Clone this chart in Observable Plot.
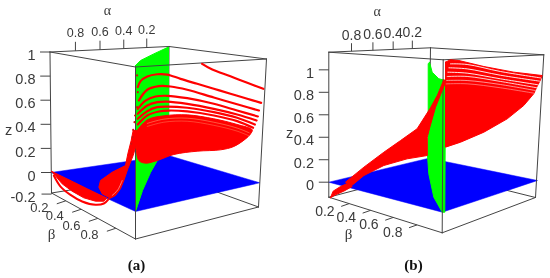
<!DOCTYPE html>
<html>
<head>
<meta charset="utf-8">
<script src="https://cdn.jsdelivr.net/npm/d3@7"></script>
<script src="https://cdn.jsdelivr.net/npm/@observablehq/plot@0.6"></script>
<style>html,body{margin:0;padding:0;background:#fff}svg{display:block}</style>
</head>
<body>
<div id="chart"></div>
<script>
// ---- axis values
const alphaTicks = [0.8, 0.6, 0.4, 0.2];
const betaTicks = [0.2, 0.4, 0.6, 0.8];
const zTicksA = [1, 0.8, 0.6, 0.4, 0.2, 0, -0.2];
const zTicksB = [1, 0.8, 0.6, 0.4, 0.2, 0];

// ---- panel (a): red curves, on the section from (alpha 1, beta 0) to (alpha 0, beta 1)
const a1Beta = [.702,.749,.833,.911,.985];
const a1Z = [.942,.898,.848,.799,.755];
const a2Beta = [.404,.417,.448,.494,.540,.602,.679,.756,.833,.911,.975];
const a2Z = [.735,.785,.825,.846,.846,.814,.778,.742,.706,.670,.641];
const a3Beta = [.409,.448,.502,.556,.633,.756,.880,.965];
const a3Z = [.626,.716,.749,.749,.727,.671,.616,.578];
const a4Beta = [.404,.440,.486,.540,.633,.756,.864,.960];
const a4Z = [.557,.627,.663,.672,.658,.620,.572,.530];
const a5Beta = [.404,.448,.494,.540,.633,.756,.864,.954];
const a5Z = [.516,.587,.617,.625,.612,.579,.540,.497];
const a6Beta = [.404,.448,.494,.540,.633,.756,.864,.946];
const a6Z = [.475,.540,.576,.584,.580,.552,.513,.464];
const a7Beta = [.404,.448,.502,.548,.633,.756,.864,.938];
const a7Z = [.428,.505,.541,.552,.550,.525,.486,.437];
const aMassBeta = [.401,.448,.525,.633,.756,.864,.934,.926,.903,.849,.787,.679,.571,.494,.440,.409,.398];
const aMassZ = [.378,.469,.507,.522,.498,.459,.420,.387,.345,.280,.248,.229,.194,.139,.113,.132,.214];
const aFaintBeta = [.448,.525,.633,.756,.864,.920];
const aFaint1Z = [.440,.480,.495,.470,.430,.395];
const aFaint2Z = [.415,.455,.470,.445,.405,.370];
const aDotBeta = [.401,.404,.401,.392,.389,.383,.380,.374];
const aDotZ = [.831,.694,.570,.501,.446,.383,.322,.267];
const aNeckBeta = [.3827,.3735,.3580,.3472,.2855,.2315,.2238,.2392,.2778,.3009,.3241,.3395,.3580,.3827,.3981,.3981];
const aNeckZ = [.377,.294,.183,.086,.026,-.047,-.103,-.157,-.189,-.165,-.108,-.038,.060,.171,.268,.378];
const aNeckGapBeta = [.3318,.3117,.2855];
const aNeckGapZ = [-.039,-.117,-.166];
const aBowlBeta = [.005,.108,.170,.224,.262,.247,.208,.154,.100,.054];
const aBowlZ = [.010,-.071,-.121,-.163,-.190,-.217,-.220,-.197,-.147,-.090];
const aRimBeta = [.0154,.0463,.0926,.1466,.2083,.2469,.2701];
const aRimZ = [-.024,-.113,-.178,-.228,-.250,-.236,-.195];
// panel (a): green surface, on the section alpha = beta
const aGreenBeta = [1,.848,.445,0,0,.303,.545,.788,.939,1];
const aGreenZ = [1.01,1.024,1.014,.995,0,.117,.105,.066,.018,0];

// ---- panel (b)
const bFanBeta = [.552,.575,.615,.733,.874,1.008,1.0,.984,.968,.921,.843,.733,.623,.552];
const bFanZ = [1.080,1.102,1.096,1.044,.995,.967,.927,.865,.798,.690,.567,.445,.354,.309];
const bBandBeta = [.544,.513,.481,.418,.340,.261,.167,.080,.104,.167,.261,.371,.466,.466,.478,.505,.552];
const bBandZ = [.920,.777,.665,.476,.370,.265,.132,-.001,-.040,.057,.146,.205,.234,.400,.490,.671,.898];
const bTailBeta = [.009,.022,.057,.085,.112,.072,.033];
const bTailZ = [-.139,-.080,-.039,-.016,-.040,-.081,-.113];
const bGap1Beta = [.575,.654,.811,1.0];
const bGap1Z = [1.065,1.061,1.000,.945];
const bGap2Beta = [.568,.654,.811,.995];
const bGap2Z = [1.029,1.021,.966,.915];
const bGap3Beta = [.563,.654,.811,.989];
const bGap3Z = [.989,.982,.933,.881];
const bGap4Beta = [.560,.654,.811,.984];
const bGap4Z = [.950,.952,.909,.853];
const bGap5Beta = [.557,.654,.811,.976];
const bGap5Z = [.914,.915,.881,.828];
const bGap6Beta = [.555,.654,.811,.968];
const bGap6Z = [.883,.885,.851,.804];
const bGreenBeta = [.126,.273,.634,1,.962,.820,.361,.087,0,.055,.055];
const bGreenZ = [1.041,.965,.964,1,-.016,-.079,-.188,-.122,.072,.278,1.014];

// ---- viewing set-up: where the box corners fall in the picture
function makeView(c) {
  const mix = (a, b, t) => a + (b - a) * t;
  const atKnot = (k, A, B) => ({
    x: A*(1-B)*c.L.x[k] + A*B*c.F.x[k] + (1-A)*B*c.R.x[k] + (1-A)*(1-B)*c.K.x[k],
    y: A*(1-B)*c.L.y[k] + A*B*c.F.y[k] + (1-A)*B*c.R.y[k] + (1-A)*(1-B)*c.K.y[k]
  });
  const project = (alpha, beta, z) => {
    const p0 = atKnot(1, alpha, beta);
    const p1 = z >= 0 ? atKnot(0, alpha, beta) : atKnot(2, alpha, beta);
    const f = z >= 0 ? z / c.zTop : z / c.zBot;
    return {x: mix(p0.x, p1.x, f), y: mix(p0.y, p1.y, f)};
  };
  const pers = (t, w) => t / (t + w * (1 - t));
  const red = (b, z) => ({
    x: c.red.x0 + c.red.dx * b,
    y: c.red.y0 + c.red.dy * b - z * (c.red.h0 + c.red.dh * b)
  });
  const green = (b, z) => ({
    x: c.green.x0 + c.green.dx * b,
    y: c.green.y0 + c.green.dy * b - z * (c.green.h0 + c.green.dh * b)
  });
  return {project, pers, red, green, c};
}
const zip = (fn, xs, ys) => xs.map((v, i) => fn(v, ys[i]));
const closed = rows => [...rows, rows[0]];

const viewA = makeView({
  zTop: 1, zBot: -0.19,
  L: {x: [49.5, 50.5, 51], y: [51.5, 172, 192.5]},
  F: {x: [135, 135, 135], y: [66.5, 211, 238.5]},
  R: {x: [266, 259.3, 258], y: [58.5, 182.3, 206.5]},
  K: {x: [168.5, 168, 168], y: [46, 155, 174]},
  red: {x0: 50, dx: 216, y0: 172, dy: 10, h0: 120, dh: 4},
  green: {x0: 168, dx: -33, y0: 155, dy: 56, h0: 109, dh: 35.5},
  wAlpha: .92, wBeta: 1.22,
  zTickLen: 10, alphaTickLen: 9, alphaLabelDy: -18,
  betaTick: [-9, 3], betaLabel: [-26.4, 7], zLabelX: 35,
  alphaSize: 12.5, betaSize: 13
});
const viewB = makeView({
  zTop: 1.157, zBot: -0.133,
  L: {x: [328.3, 328.3, 328.3], y: [51.7, 181.7, 196.7]},
  F: {x: [442.7, 441.7, 441.7], y: [59.3, 211.7, 232.3]},
  R: {x: [543.3, 537, 535], y: [54.3, 180, 197]},
  K: {x: [430, 428.3, 428.3], y: [47.3, 157.7, 170.4]},
  red: {x0: 328, dx: 212, y0: 181.7, dy: -1.7, h0: 112.4, dh: -3.8},
  green: {x0: 426.7, dx: 18.3, y0: 156.7, dy: 55, h0: 93, dh: 38.7},
  wAlpha: .87, wBeta: 1.14,
  zTickLen: 10, alphaTickLen: 8, alphaLabelDy: -16,
  betaTick: [-8, 2.8], betaLabel: [-24.3, 7.5], zLabelX: 313.5,
  alphaSize: 14, betaSize: 14
});

const ink = "#444";
const textInk = "#3a3a3a";
const sans = "Liberation Sans";
const serif = "Liberation Serif";

function edgeMarks(v, pairs) {
  const zT = v.c.zTop, zB = v.c.zBot;
  const P = {
    LT: v.project(1,0,zT), FT: v.project(1,1,zT), RT: v.project(0,1,zT), KT: v.project(0,0,zT),
    LB: v.project(1,0,zB), FB: v.project(1,1,zB), RB: v.project(0,1,zB), KB: v.project(0,0,zB)
  };
  return pairs.map(([a, b]) => Plot.line([P[a], P[b]], {x: "x", y: "y", stroke: ink, strokeWidth: 1}));
}

function axisMarks(v, zTicks) {
  const c = v.c, marks = [];
  const zRows = zTicks.map(z => {
    const p = v.project(1, 0, z);
    return {x1: p.x - c.zTickLen, x2: p.x, y: p.y, label: String(z)};
  });
  marks.push(Plot.link(zRows, {x1: "x1", x2: "x2", y1: "y", y2: "y", stroke: ink, strokeWidth: 1}));
  marks.push(Plot.text(zRows, {x: () => c.zLabelX, y: d => d.y + 3.5, text: "label", textAnchor: "end", fontSize: 14.5, fontFamily: sans, fill: textInk}));
  const aRows = alphaTicks.map(a => {
    const p = v.project(1 - v.pers(1 - a, c.wAlpha), 0, c.zTop);
    return {x: p.x, y: p.y, label: String(a)};
  });
  marks.push(Plot.link(aRows, {x1: "x", x2: "x", y1: "y", y2: d => d.y - c.alphaTickLen, stroke: ink, strokeWidth: 1}));
  marks.push(Plot.text(aRows, {x: "x", y: d => d.y + c.alphaLabelDy, text: "label", fontSize: c.alphaSize, fontFamily: sans, fill: textInk}));
  const bRows = betaTicks.map(b => {
    const p = v.project(1, v.pers(b, c.wBeta), c.zBot);
    return {x: p.x, y: p.y, label: String(b)};
  });
  marks.push(Plot.link(bRows, {x1: "x", y1: "y", x2: d => d.x + c.betaTick[0], y2: d => d.y + c.betaTick[1], stroke: ink, strokeWidth: 1}));
  marks.push(Plot.text(bRows, {x: d => d.x + c.betaLabel[0], y: d => d.y + c.betaLabel[1], text: "label", fontSize: c.betaSize, fontFamily: sans, fill: textInk}));
  return marks;
}

function planeMark(v) {
  const rows = [[1,0],[1,1],[0,1],[0,0]].map(([a,b]) => v.project(a,b,0));
  return Plot.line(closed(rows), {x: "x", y: "y", fill: "#0000ff", stroke: "#0000ff", strokeWidth: .5});
}
const poly = (rows, col, curve = "linear") =>
  Plot.line(closed(rows), {x: "x", y: "y", fill: col, stroke: col, strokeWidth: 1, curve});
const curve = (rows, col, w, opacity = 1) =>
  Plot.line(rows, {x: "x", y: "y", stroke: col, strokeWidth: w, strokeOpacity: opacity, curve: "catmull-rom"});

const RED = "#ff0000", GREEN = "#00ff00";
const backEdges = ["LT-KT","KT-RT","LB-KB","KB-RB","KT-KB"].map(s => s.split("-"));
const frontEdges = ["LT-FT","FT-RT","LB-FB","FB-RB","LT-LB","FT-FB","RT-RB"].map(s => s.split("-"));

const marksA = [
  ...edgeMarks(viewA, backEdges),
  planeMark(viewA),
  poly(zip(viewA.green, aGreenBeta, aGreenZ), GREEN),
  ...edgeMarks(viewA, frontEdges),
  poly(zip(viewA.red, aBowlBeta, aBowlZ), RED),
  curve(zip(viewA.red, aRimBeta, aRimZ), RED, 2),
  poly(zip(viewA.red, aNeckBeta, aNeckZ), RED),
  curve(zip(viewA.red, aNeckGapBeta, aNeckGapZ), "#ff9a9a", .8),
  Plot.dot(zip(viewA.red, aDotBeta, aDotZ), {x: "x", y: "y", r: 1.1, fill: "#d01010"}),
  poly(zip(viewA.red, aMassBeta, aMassZ), RED, "catmull-rom"),
  curve(zip(viewA.red, aFaintBeta, aFaint1Z), "#ff9a70", .7, .8),
  curve(zip(viewA.red, aFaintBeta, aFaint2Z), "#ff9a70", .7, .6),
  curve(zip(viewA.red, a1Beta, a1Z), RED, 2.2),
  curve(zip(viewA.red, a2Beta, a2Z), RED, 2.2),
  curve(zip(viewA.red, a3Beta, a3Z), RED, 2.2),
  curve(zip(viewA.red, a4Beta, a4Z), RED, 2.2),
  curve(zip(viewA.red, a5Beta, a5Z), RED, 2.2),
  curve(zip(viewA.red, a6Beta, a6Z), RED, 2.2),
  curve(zip(viewA.red, a7Beta, a7Z), RED, 2.2),
  ...axisMarks(viewA, zTicksA),
  Plot.text(["α"], {x: () => 107, y: () => 10, fontSize: 14, fontFamily: serif, fill: textInk}),
  Plot.text(["β"], {x: () => 51, y: () => 234, fontSize: 15, fontFamily: serif, fill: textInk}),
  Plot.text(["z"], {x: () => 8, y: () => 130, fontSize: 14.5, fontFamily: sans, fill: textInk}),
  Plot.text(["(a)"], {x: () => 136, y: () => 265, fontSize: 15, fontFamily: serif, fontWeight: "bold", fill: "#111"})
];

const marksB = [
  ...edgeMarks(viewB, backEdges),
  planeMark(viewB),
  poly(zip(viewB.green, bGreenBeta, bGreenZ), GREEN),
  ...edgeMarks(viewB, frontEdges),
  poly(zip(viewB.red, bTailBeta, bTailZ), RED),
  poly(zip(viewB.red, bBandBeta, bBandZ), RED),
  poly(zip(viewB.red, bFanBeta, bFanZ), RED),
  curve(zip(viewB.red, bGap1Beta, bGap1Z), "#fff", .9),
  curve(zip(viewB.red, bGap2Beta, bGap2Z), "#fff", .9),
  curve(zip(viewB.red, bGap3Beta, bGap3Z), "#fff", .9),
  curve(zip(viewB.red, bGap4Beta, bGap4Z), "#fff", .8),
  curve(zip(viewB.red, bGap5Beta, bGap5Z), "#ffd0d0", .7),
  curve(zip(viewB.red, bGap6Beta, bGap6Z), "#ffb0b0", .6),
  ...axisMarks(viewB, zTicksB),
  Plot.text(["α"], {x: () => 376.7, y: () => 11, fontSize: 14, fontFamily: serif, fill: textInk}),
  Plot.text(["β"], {x: () => 348, y: () => 234, fontSize: 15, fontFamily: serif, fill: textInk}),
  Plot.text(["z"], {x: () => 289, y: () => 133, fontSize: 14.5, fontFamily: sans, fill: textInk}),
  Plot.text(["(b)"], {x: () => 413, y: () => 265, fontSize: 15, fontFamily: serif, fontWeight: "bold", fill: "#111"})
];

const chart = Plot.plot({
  width: 550, height: 278,
  marginTop: 0, marginRight: 0, marginBottom: 0, marginLeft: 0,
  x: {domain: [0, 550], range: [0, 550], axis: null},
  y: {domain: [0, 278], range: [0, 278], axis: null},
  style: {background: "#fff", filter: "blur(0.3px)"},
  marks: [...marksA, ...marksB]
});
document.getElementById("chart").append(chart);
</script>
</body>
</html>
